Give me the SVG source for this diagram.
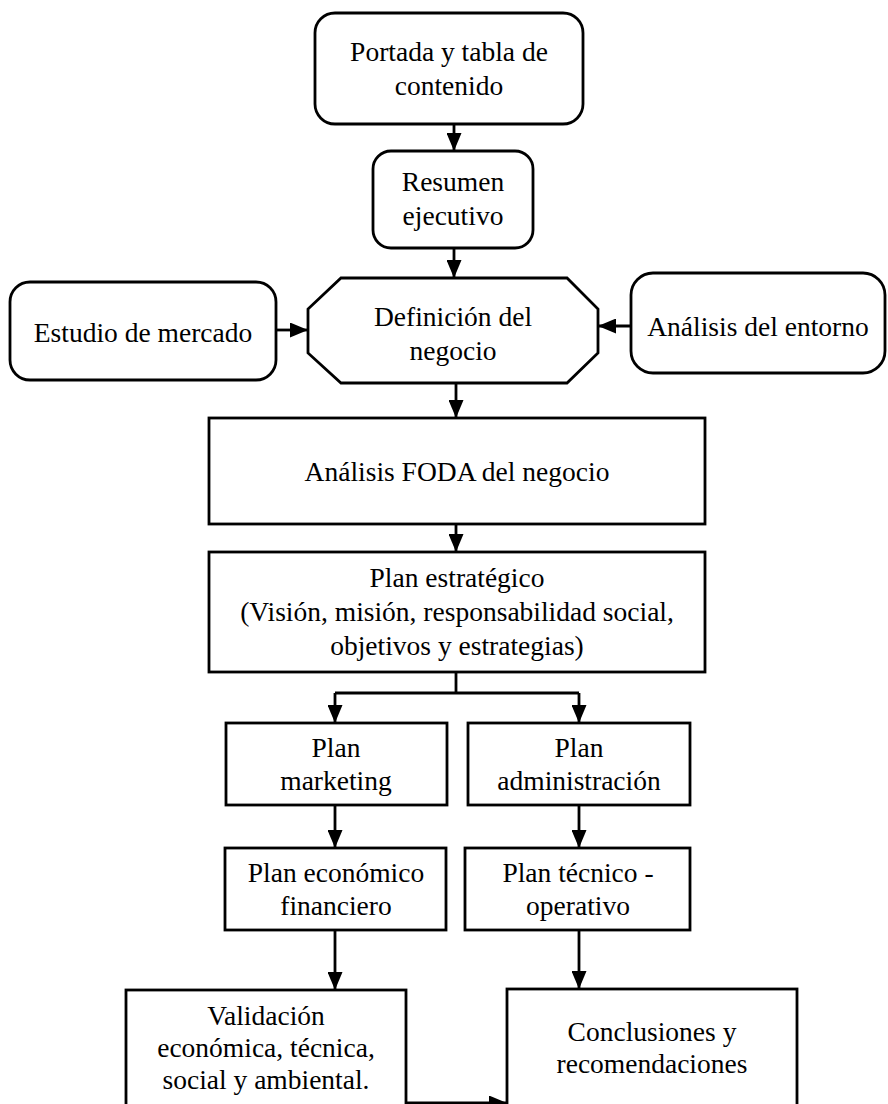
<svg xmlns="http://www.w3.org/2000/svg" width="888" height="1104" viewBox="0 0 888 1104">
<style>
.box{fill:#fff;stroke:#000;stroke-width:2.8}
.t{font-family:"Liberation Serif","Times New Roman",serif;font-size:27.5px;fill:#000;text-anchor:middle}
.c{fill:none;stroke:#000;stroke-width:2.8}
</style>
<defs>
<marker id="ah" viewBox="0 0 18 15" refX="18" refY="7.5" markerWidth="18" markerHeight="15" markerUnits="userSpaceOnUse" orient="auto">
<path d="M0,0 L18,7.5 L0,15 z" fill="#000"/>
</marker>
</defs>
<rect width="888" height="1104" fill="#fff"/>
<g id="connectors">
<line class="c" x1="454" y1="124" x2="454" y2="151" marker-end="url(#ah)"/>
<line class="c" x1="454" y1="248" x2="454" y2="278" marker-end="url(#ah)"/>
<line class="c" x1="276" y1="330" x2="308" y2="330" marker-end="url(#ah)"/>
<line class="c" x1="631" y1="326" x2="598" y2="326" marker-end="url(#ah)"/>
<line class="c" x1="456" y1="383" x2="456" y2="418" marker-end="url(#ah)"/>
<line class="c" x1="456" y1="524" x2="456" y2="552" marker-end="url(#ah)"/>
<polyline class="c" points="456,672 456,693"/>
<polyline class="c" points="335,693 579,693"/>
<line class="c" x1="335" y1="693" x2="335" y2="723" marker-end="url(#ah)"/>
<line class="c" x1="579" y1="693" x2="579" y2="723" marker-end="url(#ah)"/>
<line class="c" x1="335" y1="805" x2="335" y2="848" marker-end="url(#ah)"/>
<line class="c" x1="579" y1="805" x2="579" y2="848" marker-end="url(#ah)"/>
<line class="c" x1="335" y1="930" x2="335" y2="990" marker-end="url(#ah)"/>
<line class="c" x1="579" y1="930" x2="579" y2="989" marker-end="url(#ah)"/>
<line class="c" x1="406" y1="1103" x2="507" y2="1103" marker-end="url(#ah)"/>
</g>
<g id="portada">
<rect class="box" x="315" y="13" width="268" height="111" rx="20"/>
<text class="t" x="449" y="61">Portada y tabla de</text>
<text class="t" x="449" y="95">contenido</text>
</g>
<g id="resumen">
<rect class="box" x="373" y="151" width="160" height="97" rx="18"/>
<text class="t" x="453" y="191">Resumen</text>
<text class="t" x="453" y="225">ejecutivo</text>
</g>
<g id="definicion">
<polygon class="box" points="341,278 567,278 598,309 598,353 567,383 341,383 308,353 308,309"/>
<text class="t" x="453" y="326">Definición del</text>
<text class="t" x="453" y="360">negocio</text>
</g>
<g id="estudio">
<rect class="box" x="10" y="282" width="266" height="98" rx="20"/>
<text class="t" x="143" y="342">Estudio de mercado</text>
</g>
<g id="entorno">
<rect class="box" x="631" y="273" width="254" height="100" rx="22"/>
<text class="t" x="758" y="336">Análisis del entorno</text>
</g>
<g id="foda">
<rect class="box" x="209" y="418" width="496" height="106"/>
<text class="t" x="457" y="481">Análisis FODA del negocio</text>
</g>
<g id="estrategico">
<rect class="box" x="209" y="552" width="496" height="120"/>
<text class="t" x="457" y="587">Plan estratégico</text>
<text class="t" x="457" y="621">(Visión, misión, responsabilidad social,</text>
<text class="t" x="457" y="655">objetivos y estrategias)</text>
</g>
<g id="marketing">
<rect class="box" x="226" y="723" width="221" height="82"/>
<text class="t" x="336" y="757">Plan</text>
<text class="t" x="336" y="790">marketing</text>
</g>
<g id="administracion">
<rect class="box" x="468" y="723" width="222" height="82"/>
<text class="t" x="579" y="757">Plan</text>
<text class="t" x="579" y="790">administración</text>
</g>
<g id="economico">
<rect class="box" x="225" y="848" width="221" height="82"/>
<text class="t" x="336" y="882">Plan económico</text>
<text class="t" x="336" y="915">financiero</text>
</g>
<g id="tecnico">
<rect class="box" x="465" y="848" width="225" height="82"/>
<text class="t" x="578" y="882">Plan técnico -</text>
<text class="t" x="578" y="915">operativo</text>
</g>
<g id="validacion">
<rect class="box" x="126" y="990" width="280" height="130"/>
<text class="t" x="266" y="1025">Validación</text>
<text class="t" x="266" y="1057">económica, técnica,</text>
<text class="t" x="266" y="1089">social y ambiental.</text>
</g>
<g id="conclusiones">
<rect class="box" x="507" y="989" width="290" height="130"/>
<text class="t" x="652" y="1041">Conclusiones y</text>
<text class="t" x="652" y="1073">recomendaciones</text>
</g>
</svg>
